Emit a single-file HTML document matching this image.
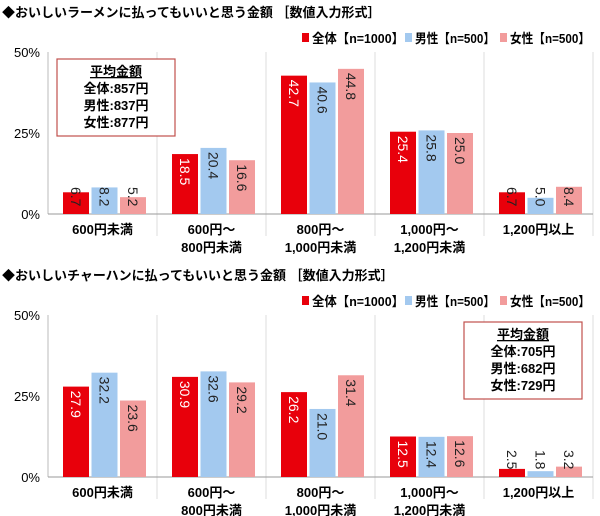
<!DOCTYPE html>
<html><head><meta charset="utf-8"><style>
body{margin:0;background:#fff;}
svg{display:block;font-family:"Liberation Sans","Noto Sans CJK JP",sans-serif;}
</style></head><body>
<svg id="s" width="600" height="516" xmlns="http://www.w3.org/2000/svg"></svg>
<script>
const s=document.getElementById('s');let h='';
const C=['#e8000b','#a3c9ef','#f29c9c'];
const cats=[['600円未満'],['600円～','800円未満'],['800円～','1,000円未満'],['1,000円～','1,200円未満'],['1,200円以上']];
function chart(oy,title,data,box,bx){
 const y0=oy+214,y50=oy+52,k=(y0-y50)/50;
 h+=`<text x="2" y="${oy+17}" font-size="13" font-weight="bold">◆おいしい${title}に払ってもいいと思う金額 ［数値入力形式］</text>`;
 const lg=[[302,'全体【n=1000】',92],[405,'男性【n=500】',80],[500,'女性【n=500】',80]];
 lg.forEach((l,i)=>{h+=`<rect x="${l[0]}" y="${oy+33}" width="7" height="9" fill="${C[i]}"/><text x="${l[0]+10}" y="${oy+43}" font-size="13" font-weight="bold" textLength="${l[2]}" lengthAdjust="spacingAndGlyphs">${l[1]}</text>`;});
 ['50%','25%','0%'].forEach((t,i)=>{h+=`<text x="40" y="${y50+i*25*k+5}" font-size="13" text-anchor="end">${t}</text>`;});
 for(let i=1;i<=5;i++){const x=48+i*109;h+=`<line x1="${x}" y1="${y50}" x2="${x}" y2="${y0+22}" stroke="#ddd"/>`;}
 h+=`<line x1="48" y1="${y50}" x2="48" y2="${y0}" stroke="#bbb"/><line x1="48" y1="${y0}" x2="593" y2="${y0}" stroke="#999"/>`;
 data.forEach((d,c)=>{d.forEach((v,j)=>{const x=48+c*109+15+j*28.5,t=y0-v*k;
  h+=`<rect x="${x}" y="${t}" width="26" height="${v*k}" fill="${C[j]}"/>`;
  const small=v<10;const sy=small?y0-27:t+4;const col=(!small&&j==0)?'#fff':'#222';
  h+=`<text transform="translate(${x+8},${sy}) rotate(90)" font-size="14" fill="${col}">${v.toFixed(1)}</text>`;});
  cats[c].forEach((l,li)=>{h+=`<text x="${48+c*109+54.5}" y="${y0+20+li*18}" font-size="13" font-weight="bold" text-anchor="middle">${l}</text>`;});
 });
 const [x1,y1]=bx;
 h+=`<rect x="${x1}" y="${oy+y1}" width="118" height="77" fill="#fff" stroke="#c0504d" stroke-width="1.2"/>`;
 box.forEach((l,i)=>{h+=`<text x="${x1+59}" y="${oy+y1+17+i*17}" font-size="13" font-weight="bold" text-anchor="middle" ${i==0?'text-decoration="underline"':''}>${l}</text>`;});
}
chart(0,'ラーメン',[[6.7,8.2,5.2],[18.5,20.4,16.6],[42.7,40.6,44.8],[25.4,25.8,25.0],[6.7,5.0,8.4]],['平均金額','全体:857円','男性:837円','女性:877円'],[57,59]);
chart(263,'チャーハン',[[27.9,32.2,23.6],[30.9,32.6,29.2],[26.2,21.0,31.4],[12.5,12.4,12.6],[2.5,1.8,3.2]],['平均金額','全体:705円','男性:682円','女性:729円'],[464,59]);
s.innerHTML=h;
</script>
</body></html>
